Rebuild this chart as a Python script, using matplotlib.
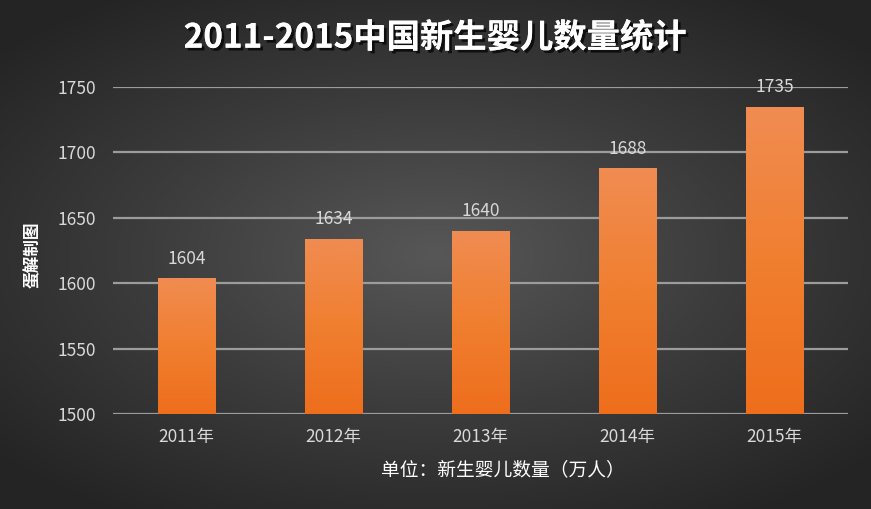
import numpy as np
import matplotlib.pyplot as plt
import matplotlib.patheffects as pe
from matplotlib.colors import LinearSegmentedColormap

plt.rcParams['font.family'] = ['Noto Sans CJK SC', 'DejaVu Sans']

years = ['2011年', '2012年', '2013年', '2014年', '2015年']
births = [1604, 1634, 1640, 1688, 1735]
y_ticks = [1500, 1550, 1600, 1650, 1700, 1750]

fig = plt.figure(figsize=(8.71, 5.09), dpi=100)

# radial gradient background
bg = fig.add_axes([0, 0, 1, 1], zorder=-2)
gx, gy = np.meshgrid(np.linspace(-1, 1, 400), np.linspace(-1, 1, 240))
r = np.sqrt(gx ** 2 + (gy * 1.1) ** 2)
bg_cmap = LinearSegmentedColormap.from_list('bg', ['#575757', '#3c3c3c', '#242424'])
bg.imshow(r, cmap=bg_cmap, aspect='auto', extent=[0, 1, 0, 1], vmin=0, vmax=1.35)
bg.axis('off')

ax = fig.add_axes([0.1297, 0.1866, 0.8439, 0.6424])
ax.set_facecolor('none')
x = np.arange(len(years))
bars = ax.bar(x, births, width=0.39, color='#f07a2c', zorder=3)
ax.set_xlim(-0.5, len(years) - 0.5)
ax.set_ylim(1500, 1750)

bar_cmap = LinearSegmentedColormap.from_list('bar', ['#ee6e1c', '#f07f30', '#f08c52'])
grad = np.linspace(0, 1, 256).reshape(-1, 1)
for b in bars:
    im = ax.imshow(grad, cmap=bar_cmap, aspect='auto', origin='lower',
                   extent=[b.get_x(), b.get_x() + b.get_width(), 1500, b.get_height()],
                   zorder=4)
    im.set_clip_path(b)
    ax.text(b.get_x() + b.get_width() / 2, b.get_height() + 8, str(int(b.get_height())),
            ha='center', va='bottom', color='#d9d9d9', fontsize=12.5, zorder=5)

ax.set_yticks(y_ticks)
ax.set_xticks(x)
ax.set_xticklabels(years)
ax.grid(axis='y', color='#9c9c9c', linewidth=1.6, zorder=1)
ax.tick_params(axis='both', length=0, colors='#d9d9d9', labelsize=12.5, pad=10)
ax.tick_params(axis='y', pad=12)
for s in ax.spines.values():
    s.set_visible(False)

fig.text(0.5, 0.925, '2011-2015中国新生婴儿数量统计', ha='center', va='center',
         color='white', fontsize=24, fontweight='bold',
         path_effects=[pe.withSimplePatchShadow(offset=(2, -2), shadow_rgbFace='black', alpha=0.7),
                       pe.Normal()])
fig.text(0.038, 0.5, '蛋解制图', rotation=90, ha='center', va='center',
         color='white', fontsize=12, fontweight='bold')
fig.text(0.577, 0.077, '单位：新生婴儿数量（万人）', ha='center', va='center',
         color='white', fontsize=13.5, fontweight='medium')

fig.savefig('out.png', dpi=100)
